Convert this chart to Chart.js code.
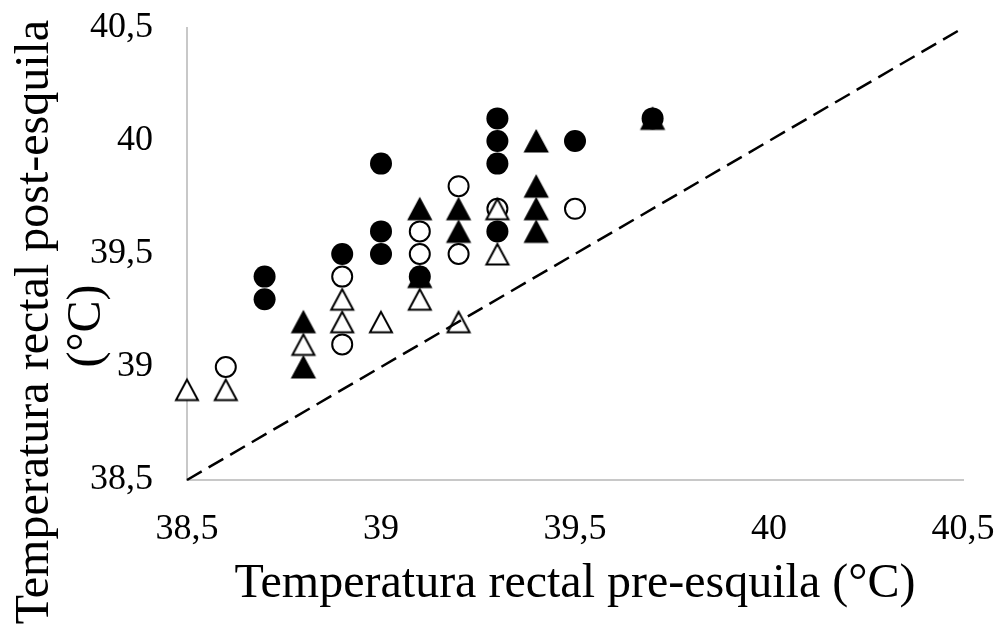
<!DOCTYPE html>
<html>
<head>
<meta charset="utf-8">
<script src="https://cdn.jsdelivr.net/npm/chart.js@4"></script>
<style>
  body { margin: 0; background: #fff; }
</style>
</head>
<body>
<canvas id="grafico" width="1000" height="627"></canvas>
<script>
// filled circles
const circulosLlenosX = [38.7, 38.7, 38.9, 39.0, 39.0, 39.0, 39.1, 39.3, 39.3, 39.3, 39.3, 39.5, 39.7];
const circulosLlenosY = [39.4, 39.3, 39.5, 39.9, 39.6, 39.5, 39.4, 40.1, 40.0, 39.9, 39.6, 40.0, 40.1];
// filled triangles
const triangulosLlenosX = [38.8, 38.8, 39.1, 39.1, 39.2, 39.2, 39.4, 39.4, 39.4, 39.4, 39.7];
const triangulosLlenosY = [39.2, 39.0, 39.7, 39.4, 39.7, 39.6, 40.0, 39.8, 39.7, 39.6, 40.1];
// open circles
const circulosVaciosX = [38.6, 38.9, 38.9, 39.1, 39.1, 39.2, 39.2, 39.3, 39.5];
const circulosVaciosY = [39.0, 39.4, 39.1, 39.6, 39.5, 39.8, 39.5, 39.7, 39.7];
// open triangles
const triangulosVaciosX = [38.5, 38.6, 38.8, 38.9, 38.9, 39.0, 39.1, 39.2, 39.3, 39.3];
const triangulosVaciosY = [38.9, 38.9, 39.1, 39.3, 39.2, 39.2, 39.3, 39.2, 39.7, 39.5];
// 1:1 reference line
const lineaX = [38.5, 40.5];
const lineaY = [38.5, 40.5];

const ejeMin = 38.5;
const ejeMax = 40.5;
const paso = 0.5;
const tituloX = 'Temperatura rectal pre-esquila (°C)';
const tituloY = ['Temperatura rectal post-esquila', '(°C)'];

function puntos(xs, ys) {
  return xs.map((x, i) => ({ x: x, y: ys[i] }));
}

const fuente = 'Liberation Serif, Times New Roman, serif';

// Excel-like triangle marker, centred on its bounding box (chart.js centres on the centroid)
function triangulo(relleno) {
  const cv = document.createElement('canvas');
  cv.width = 28;
  cv.height = 28;
  const c = cv.getContext('2d');
  c.beginPath();
  c.moveTo(14, 4);
  c.lineTo(3, 24.5);
  c.lineTo(25, 24.5);
  c.closePath();
  c.fillStyle = relleno ? '#000' : '#fff';
  c.fill();
  c.lineWidth = 2;
  c.lineJoin = 'miter';
  c.strokeStyle = '#000';
  c.stroke();
  return cv;
}

// y title is centred on the whole canvas height, not on the axis, so draw it by hand
const tituloYPlugin = {
  id: 'tituloY',
  afterDraw(chart) {
    const c = chart.ctx;
    c.save();
    c.fillStyle = '#000';
    c.font = '48px ' + fuente;
    c.textAlign = 'center';
    c.textBaseline = 'alphabetic';
    const lineas = [[48, 322], [100, 326]];
    tituloY.forEach((t, i) => {
      c.save();
      c.translate(lineas[i][0], lineas[i][1]);
      c.rotate(-Math.PI / 2);
      c.fillText(t, 0, 0);
      c.restore();
    });
    c.restore();
  }
};

const ctx = document.getElementById('grafico');

new Chart(ctx, {
  type: 'scatter',
  data: {
    datasets: [
      {
        data: puntos(lineaX, lineaY),
        showLine: true,
        borderColor: '#000',
        borderWidth: 2.5,
        borderDash: [17, 8],
        pointRadius: 0,
        order: 0
      },
      {
        data: puntos(triangulosVaciosX, triangulosVaciosY),
        pointStyle: triangulo(false),
        pointRadius: 13,
        order: 1
      },
      {
        data: puntos(triangulosLlenosX, triangulosLlenosY),
        pointStyle: triangulo(true),
        pointRadius: 13,
        order: 2
      },
      {
        data: puntos(circulosVaciosX, circulosVaciosY),
        pointStyle: 'circle',
        pointRadius: 10,
        backgroundColor: '#fff',
        borderColor: '#000',
        borderWidth: 2,
        order: 3
      },
      {
        data: puntos(circulosLlenosX, circulosLlenosY),
        pointStyle: 'circle',
        pointRadius: 11,
        backgroundColor: '#000',
        borderColor: '#000',
        borderWidth: 0,
        order: 4
      }
    ]
  },
  options: {
    responsive: false,
    animation: false,
    clip: false,
    layout: {
      autoPadding: false,
      padding: { top: 28, right: 37, left: 0, bottom: 0 }
    },
    plugins: {
      legend: { display: false },
      tooltip: { enabled: false }
    },
    scales: {
      x: {
        type: 'linear',
        min: ejeMin,
        max: ejeMax,
        grid: { display: false, drawTicks: false },
        border: { display: true, color: '#c8c8c8', width: 2 },
        ticks: {
          stepSize: paso,
          padding: 28,
          color: '#000',
          font: { family: fuente, size: 36 },
          callback: v => String(v).replace('.', ',')
        },
        title: {
          display: true,
          text: tituloX,
          color: '#000',
          font: { family: fuente, size: 48, lineHeight: 1.15 },
          padding: { top: 0, bottom: 15 }
        },
        afterFit: s => {
          s.height = 147;
          s.paddingLeft = 0;
          s.paddingRight = 0;
        }
      },
      y: {
        type: 'linear',
        min: ejeMin,
        max: ejeMax,
        grid: { display: false, drawTicks: false },
        border: { display: true, color: '#c8c8c8', width: 2 },
        ticks: {
          stepSize: paso,
          padding: 34,
          color: '#000',
          font: { family: fuente, size: 36 },
          callback: v => String(v).replace('.', ',')
        },
        afterFit: s => {
          s.width = 187;
          s.paddingTop = 0;
          s.paddingBottom = 0;
        }
      }
    }
  },
  plugins: [tituloYPlugin]
});
</script>
</body>
</html>
